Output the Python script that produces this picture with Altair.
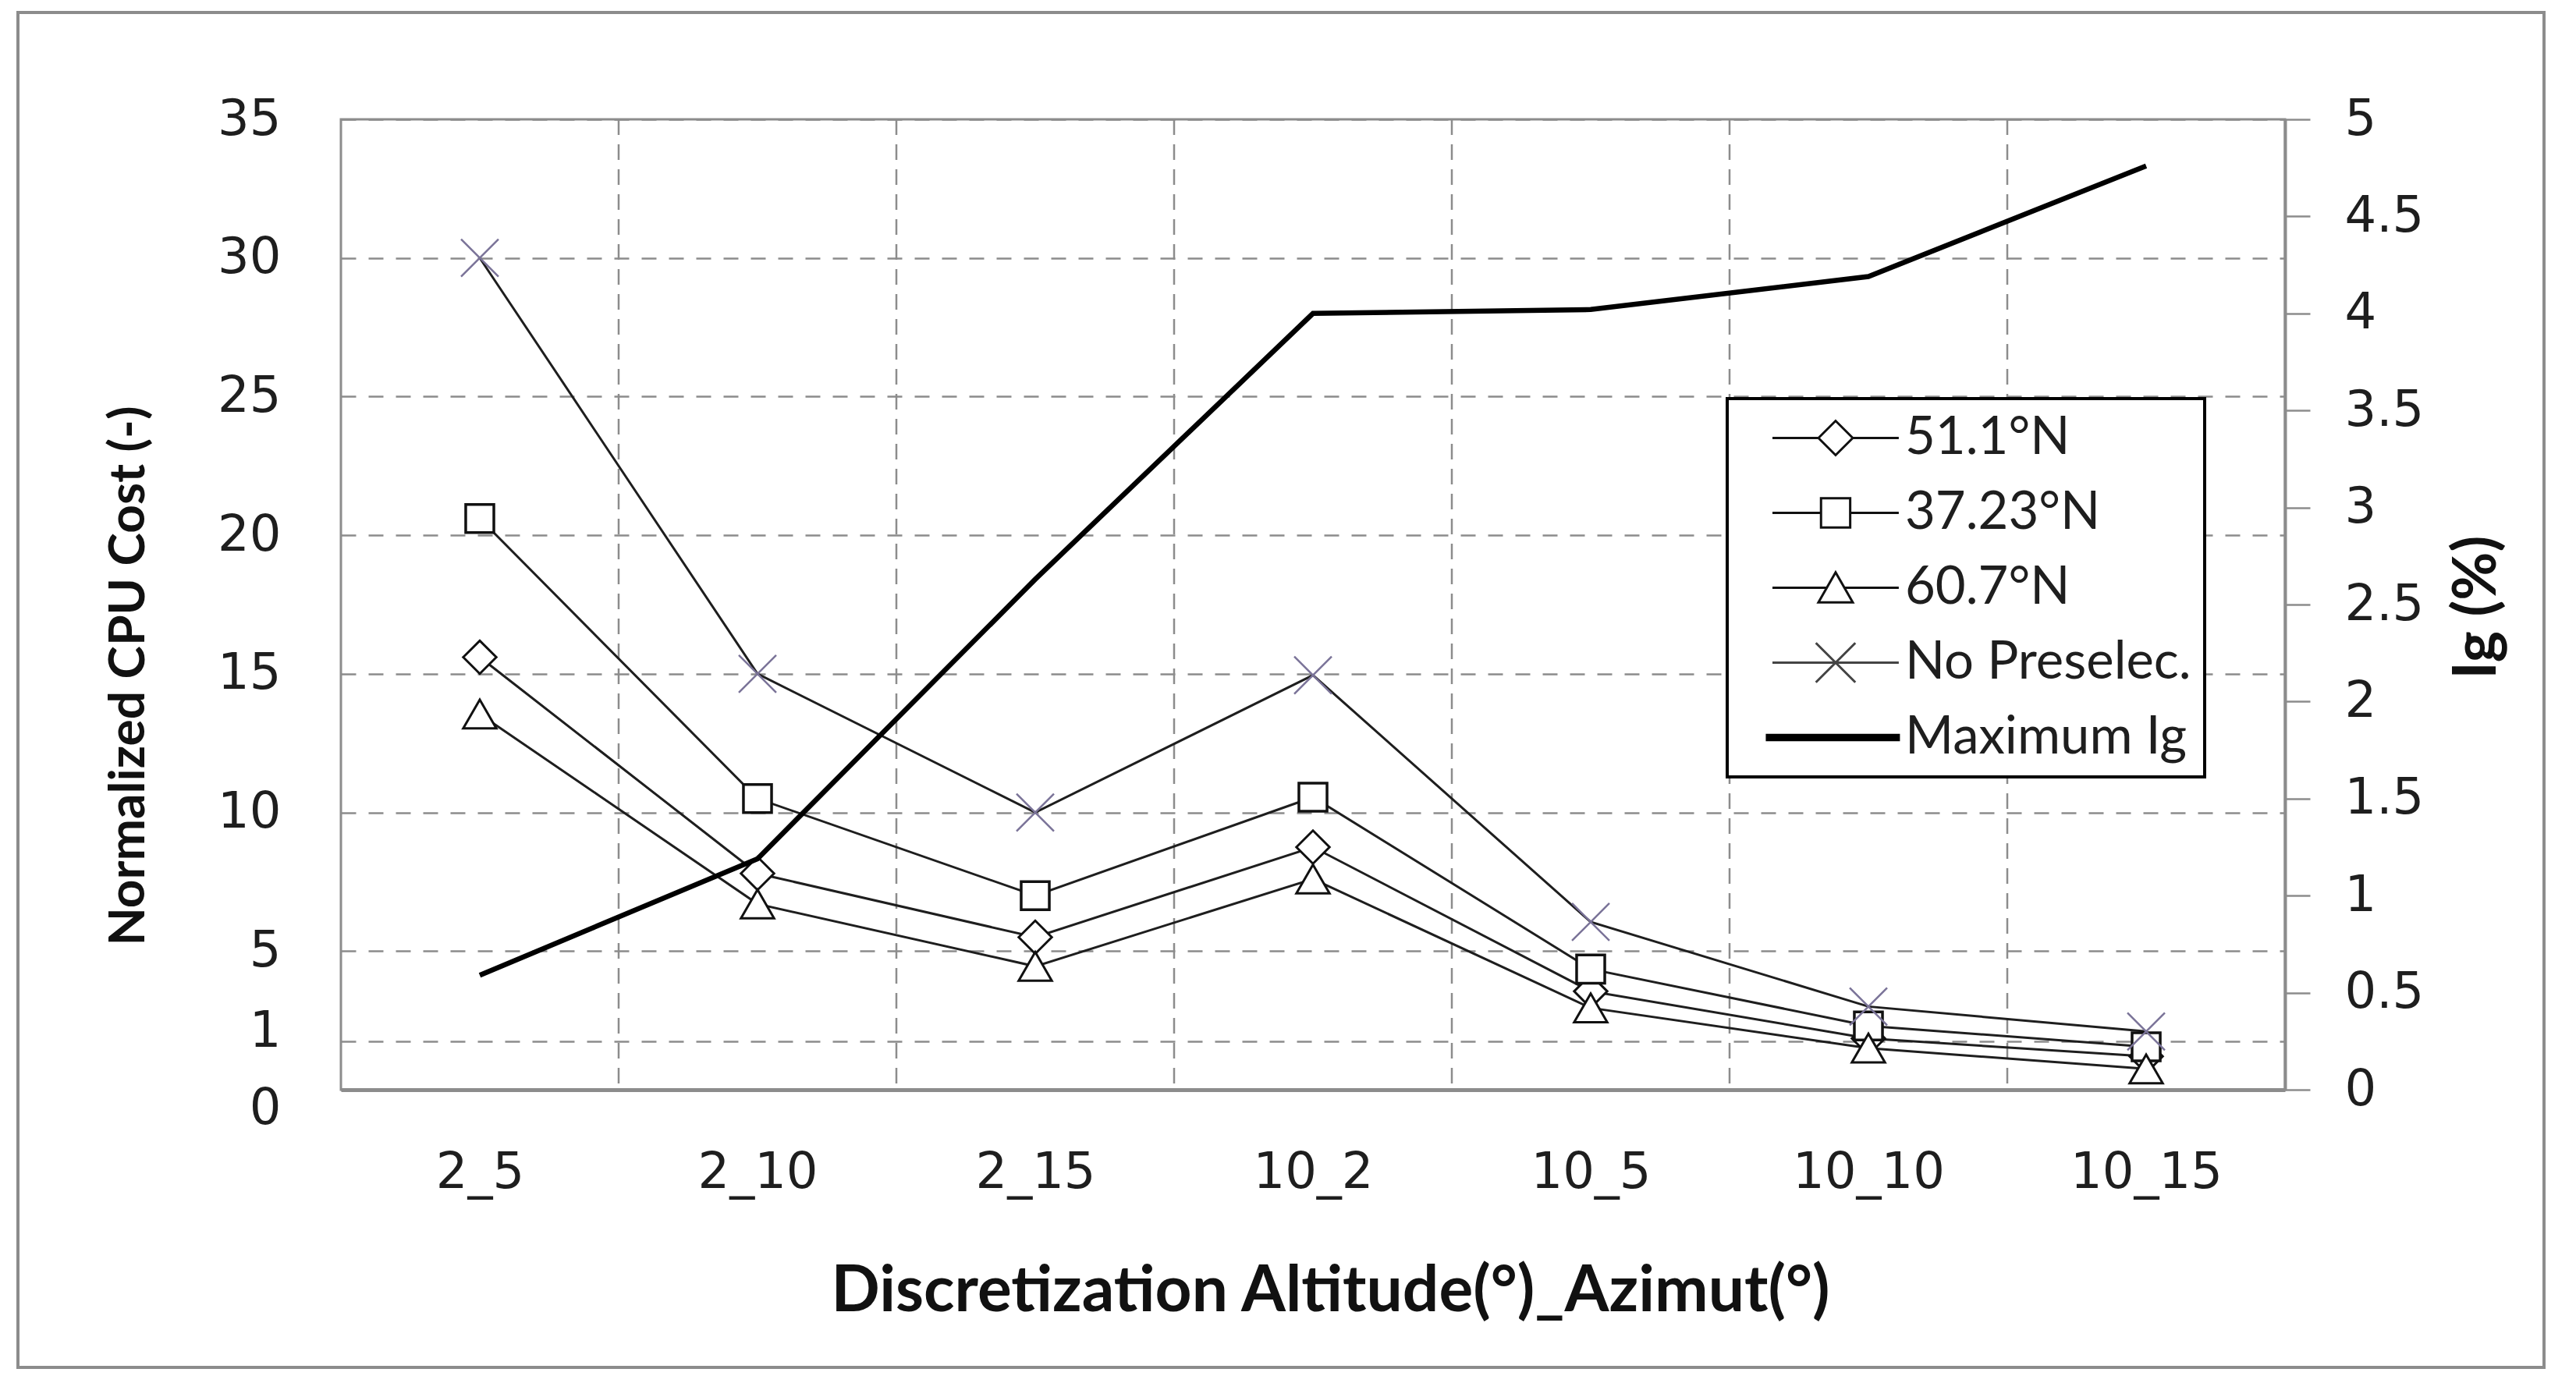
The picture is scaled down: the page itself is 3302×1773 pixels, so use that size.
import json
import altair as alt
import pandas as pd

# ---------------- data ----------------
cats = ["2_5", "2_10", "2_15", "10_2", "10_5", "10_10", "10_15"]
s_511 = [15.6, 7.8, 5.5, 8.75, 3.55, 1.85, 1.2]      # 51.1°N  (diamond)
s_3723 = [20.6, 10.5, 7.0, 10.55, 4.35, 2.3, 1.55]   # 37.23°N (square)
s_607 = [13.55, 6.7, 4.45, 7.6, 2.95, 1.5, 0.75]     # 60.7°N  (triangle)
s_nopre = [30.0, 15.0, 10.0, 14.95, 6.05, 3.0, 2.1]  # No Preselec. (x)
max_ig = [0.59, 1.19, 2.63, 4.0, 4.02, 4.19, 4.76]   # Maximum Ig (right axis, %)

series_names = ["51.1°N", "37.23°N", "60.7°N", "No Preselec."]
series_values = [s_511, s_3723, s_607, s_nopre]
legend_names = series_names + ["Maximum Ig"]

left_tick_values = [0, 1.75, 5, 10, 15, 20, 25, 30, 35]
left_tick_labels = ["0", "1", "5", "10", "15", "20", "25", "30", "35"]
right_tick_values = [0, 0.5, 1, 1.5, 2, 2.5, 3, 3.5, 4, 4.5, 5]

x_title = "Discretization Altitude(°)_Azimut(°)"
y_left_title = "Normalized CPU Cost (-)"
y_right_title = "Ig (%)"

# ---------------- tables ----------------
rows = []
for name, vals in zip(series_names, series_values):
    for i, v in enumerate(vals):
        rows.append({"idx": i, "cat": cats[i], "series": name, "value": v})
df = pd.DataFrame(rows)
ig_df = pd.DataFrame({"idx": list(range(len(cats))), "cat": cats, "ig": max_ig})
bounds_df = pd.DataFrame({"b": [i + 0.5 for i in range(len(cats) - 1)]})
leg_df = pd.DataFrame({"name": legend_names})

GRAY = "#8c8c8c"
TXT = "#1e1e1e"
LINE = "#1e1e1e"
XCOL = "#7a7398"

x_axis = alt.Axis(
    values=list(range(len(cats))),
    labelExpr=json.dumps(cats) + "[datum.value]",
    grid=False, ticks=False, domain=True, domainColor=GRAY, domainWidth=5,
    labelFont="DejaVu Sans", labelFontSize=64, labelColor=TXT, labelLimit=0,
    labelPadding=106, labelBaseline="middle", labelFlush=False, labelOverlap=False,
    titleFont="Lato", titleFontSize=82, titleFontWeight="bold", titleColor="#111",
    titleX=1268, titleY=258, titleBaseline="middle", titleAlign="center", titleLimit=0,
)

y_left_axis = alt.Axis(
    orient="left",
    values=left_tick_values,
    labelExpr="indexof(" + json.dumps(left_tick_values) + ", datum.value) >= 0 ? "
    + json.dumps(left_tick_labels) + "[indexof(" + json.dumps(left_tick_values) + ", datum.value)] : ''",
    grid=True, gridDash=[19, 16], gridColor=GRAY, gridWidth=2.5,
    ticks=False, domain=False,
    labelFont="DejaVu Sans", labelFontSize=64, labelColor=TXT, labelPadding=77,
    labelOverlap=False,
    labelOffset={"condition": [{"test": "datum.value == 0", "value": 24},
                               {"test": "datum.value == 1.75", "value": -12}],
                 "value": 0},
    titleFont="Lato", titleFontSize=64, titleFontWeight="bold", titleColor="#111",
    titleAngle=270, titleX=-272, titleY=713, titleBaseline="middle", titleAlign="center", titleLimit=0,
)

y_right_axis = alt.Axis(
    orient="right",
    values=right_tick_values, format="~g",
    grid=False, ticks=True, tickSize=32, tickColor=GRAY, tickWidth=2.5,
    domain=True, domainColor=GRAY, domainWidth=4,
    labelFont="DejaVu Sans", labelFontSize=64, labelColor=TXT, labelPadding=44,
    labelOverlap=False,
    titleFont="Lato", titleFontSize=76, titleFontWeight="bold", titleColor="#111",
    titleAngle=270, titleX=246, titleY=625, titleBaseline="middle", titleAlign="center",
)

x_scale = alt.Scale(domain=[-0.5, len(cats) - 0.5], nice=False, zero=False)
y_left_scale = alt.Scale(domain=[0, 35], nice=False)
y_right_scale = alt.Scale(domain=[0, 5], nice=False)


def xenc(field):
    return alt.X(f"{field}:Q", scale=x_scale, axis=x_axis, title=x_title)


def yenc(field):
    return alt.Y(f"{field}:Q", scale=y_left_scale, axis=y_left_axis, title=y_left_title)


# vertical dashed gridlines between categories
vgrid = alt.Chart(bounds_df).mark_rule(color=GRAY, strokeWidth=2.5, strokeDash=[20, 12]).encode(
    x=xenc("b")
)

# series lines
lines = alt.Chart(df).mark_line(color=LINE, strokeWidth=3).encode(
    x=xenc("idx"), y=yenc("value"), detail="series:N"
)

marker_defs = {
    "51.1°N": ("diamond", 1800, "#111", 3),
    "37.23°N": ("square", 1300, "#111", 3.5),
    "60.7°N": ("triangle-up", 1800, "#111", 3),
    "No Preselec.": ("M-1,-1L1,1M-1,1L1,-1", 2300, XCOL, 2.5),
}


def point_layer(name):
    shape, size, stroke, sw = marker_defs[name]
    return alt.Chart(df).transform_filter(alt.datum.series == name).mark_point(
        shape=shape, size=size, filled=True, fill="white", stroke=stroke,
        strokeWidth=sw, opacity=1
    ).encode(x=xenc("idx"), y=yenc("value"))


points = [point_layer(n) for n in series_names]

# legend (symbols drawn as line + marker)
legend_paths = [
    "M0.34,0H3.02M3.02,0L4.02,-1L5.02,0L4.02,1ZM5.02,0H7.7",
    "M0.34,0H3.17M3.17,-0.85H4.87V0.85H3.17ZM4.87,0H7.7",
    "M0.34,0H3.5M4.02,-0.9L5.02,0.85H3.02ZM4.54,0H7.7",
    "M0.34,0H7.7M2.87,-1.15L5.17,1.15M2.87,1.15L5.17,-1.15",
    "M0.02,-0.15H7.7V0.15H0.02Z",
]
leg = alt.Legend(
    title=None, orient="none", legendX=1777, legendY=358,
    labelFont="Lato", labelFontSize=67, labelColor=TXT, labelOffset=144, labelLimit=0,
    symbolSize=1936, symbolStrokeWidth=3, rowPadding=28, padding=17,
    strokeColor="#000", fillColor="white",
)
legend_layer = alt.Chart(leg_df).transform_filter("false").mark_point(opacity=1).encode(
    shape=alt.Shape("name:N", scale=alt.Scale(domain=legend_names, range=legend_paths), legend=leg),
    fill=alt.Fill("name:N", scale=alt.Scale(domain=legend_names,
                                            range=["white", "white", "white", "white", "black"]), legend=leg),
    stroke=alt.Stroke("name:N", scale=alt.Scale(domain=legend_names,
                                                range=["#111", "#111", "#111", "#444", "#000"]), legend=leg),
)

left_group = alt.layer(vgrid, lines, *points, legend_layer)

ig_line = alt.Chart(ig_df).mark_line(color="#000", strokeWidth=6.5).encode(
    x=xenc("idx"),
    y=alt.Y("ig:Q", scale=y_right_scale, axis=y_right_axis, title=y_right_title),
)

frame = alt.Chart(pd.DataFrame({"k": [0]})).mark_rect(
    filled=False, stroke=GRAY, strokeWidth=4
).encode(
    x=alt.value(-414), x2=alt.value(2824), y=alt.value(-137), y2=alt.value(1600)
)

chart = alt.layer(frame, left_group, ig_line).resolve_scale(y="independent").properties(
    width=2492, height=1244,
    padding={"left": 429, "top": 145, "right": 360, "bottom": 360},
    autosize=alt.AutoSizeParams(type="none"),
).configure_view(stroke=GRAY, strokeWidth=3).configure_legend(strokeWidth=4)

chart.save("out.html", embed_options={"renderer": "svg", "actions": False})
